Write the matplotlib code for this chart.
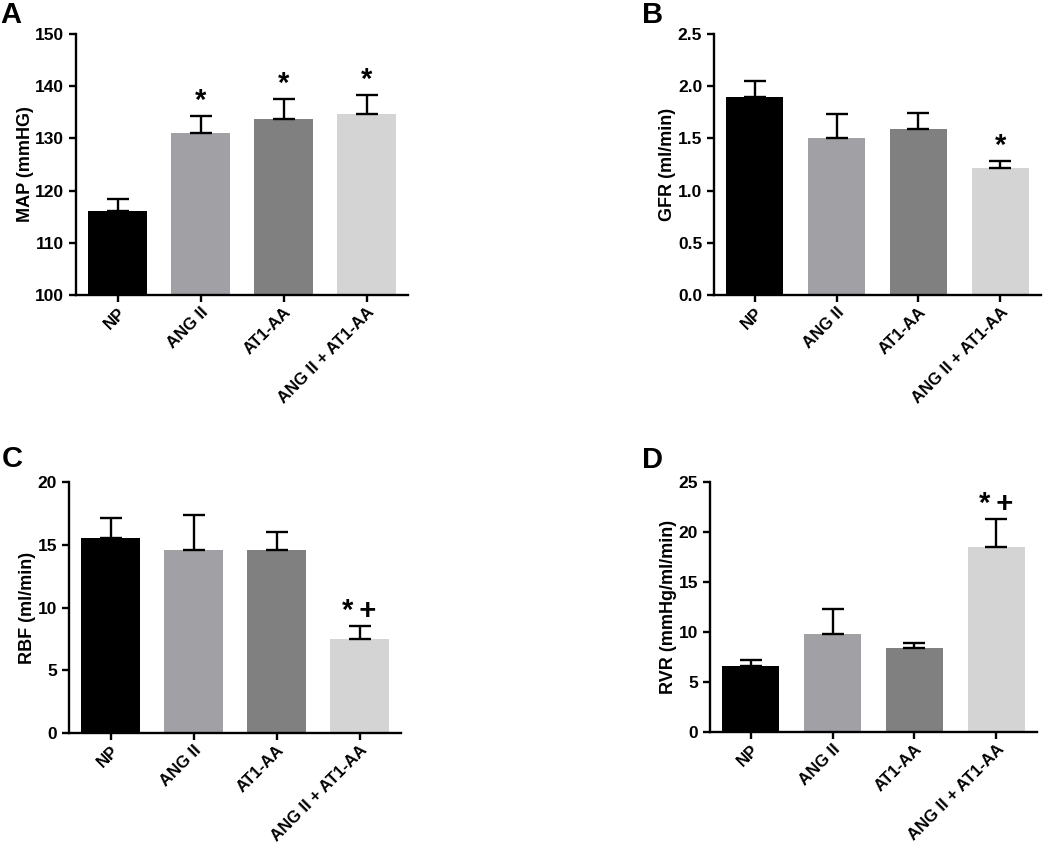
import matplotlib
matplotlib.use('Agg')
import matplotlib.pyplot as plt
import numpy as np

plt.rcParams['font.family'] = ['Liberation Sans', 'DejaVu Sans']
plt.rcParams['font.weight'] = 'bold'

groups = ['NP', 'ANG II', 'AT1-AA', 'ANG II + AT1-AA']
bar_colors = ['#000000', '#a1a0a5', '#808080', '#d4d4d4']

# means and upper error (SEM) per panel
map_mean = [116.0, 131.1, 133.7, 134.7]
map_err = [2.4, 3.2, 3.8, 3.6]
gfr_mean = [1.90, 1.50, 1.59, 1.22]
gfr_err = [0.15, 0.23, 0.15, 0.06]
rbf_mean = [15.5, 14.55, 14.55, 7.5]
rbf_err = [1.6, 2.8, 1.45, 1.0]
rvr_mean = [6.6, 9.8, 8.4, 18.5]
rvr_err = [0.65, 2.55, 0.55, 2.8]

map_marks = ['', '*', '*', '*']
gfr_marks = ['', '', '', '*']
rbf_marks = ['', '', '', '*\u2009+']
rvr_marks = ['', '', '', '*\u2009+']

panels = [
    ('A', map_mean, map_err, map_marks, 'MAP (mmHG)', (100, 150), np.arange(100, 151, 10), '%d',
     [76/1050, (847-295)/847, 332/1050, 261/847], (0/1050, 1-23/847)),
    ('B', gfr_mean, gfr_err, gfr_marks, 'GFR (ml/min)', (0, 2.5), np.arange(0, 2.51, 0.5), '%.1f',
     [714/1050, (847-295)/847, 327/1050, 261/847], (642/1050, 1-23/847)),
    ('C', rbf_mean, rbf_err, rbf_marks, 'RBF (ml/min)', (0, 20), np.arange(0, 21, 5), '%d',
     [69/1050, (847-733)/847, 332/1050, 251/847], (2/1050, 1-467/847)),
    ('D', rvr_mean, rvr_err, rvr_marks, 'RVR (mmHg/ml/min)', (0, 25), np.arange(0, 26, 5), '%d',
     [710/1050, (847-732)/847, 327/1050, 250/847], (642/1050, 1-468/847)),
]

fig = plt.figure(figsize=(10.5, 8.47), dpi=100)
x = np.arange(len(groups))

for letter, mean, err, marks, ylabel, ylim, yticks, fmt, pos, lpos in panels:
    ax = fig.add_axes(pos)
    ax.bar(x, mean, width=0.7, color=bar_colors, zorder=2)
    ax.errorbar(x, mean, yerr=[np.zeros(4), err], fmt='none', ecolor='black',
                elinewidth=1.7, capsize=8, capthick=1.7, zorder=3)
    for xi, m, e, s in zip(x, mean, err, marks):
        if s:
            ax.annotate(s, (xi, m + e), xytext=(0, 1), textcoords='offset points',
                        ha='center', va='bottom', fontsize=21, fontweight='bold')
    ax.set_xlim(-0.5, 3.5)
    ax.set_ylim(*ylim)
    ax.set_yticks(yticks)
    ax.set_yticklabels([fmt % v for v in yticks])
    ax.set_xticks(x)
    ax.set_xticklabels(groups, rotation=45, ha='right', rotation_mode='anchor')
    ax.set_ylabel(ylabel, fontsize=13, fontweight='bold', labelpad=1)
    ax.tick_params(labelsize=12.5, width=1.7, length=5, direction='out')
    ax.tick_params(axis='x', pad=2, labelsize=12)
    for sp in ['top', 'right']:
        ax.spines[sp].set_visible(False)
    for sp in ['left', 'bottom']:
        ax.spines[sp].set_linewidth(1.7)
    fig.text(lpos[0], lpos[1], letter, fontsize=21, fontweight='bold', ha='left', va='baseline')

fig.savefig('out.png', dpi=100)
